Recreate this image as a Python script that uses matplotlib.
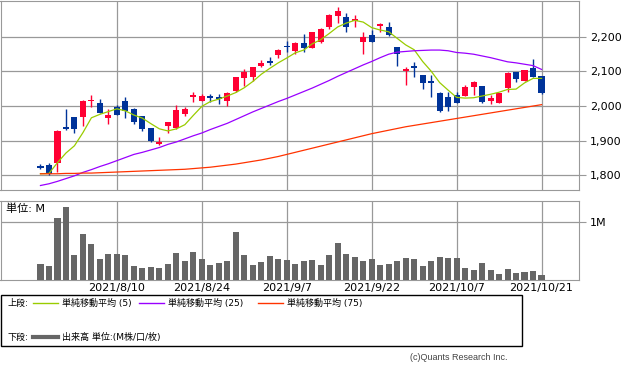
import numpy as np
import pandas as pd
import matplotlib
matplotlib.use('Agg')
import matplotlib.pyplot as plt
from matplotlib.patches import Rectangle
from matplotlib.lines import Line2D

plt.rcParams['font.family'] = ['DejaVu Sans', 'Noto Sans CJK JP']

# trading days 2021/7/27 - 2021/10/21 (Japanese holidays removed)
dates = pd.bdate_range('2021-07-27', '2021-10-21')
dates = dates.drop(pd.to_datetime(['2021-08-09', '2021-09-20', '2021-09-23']))

opens = [1826, 1830, 1836, 1937, 1968, 1969, 2015, 2008, 1966, 1997,
         2015, 1992, 1971, 1936, 1890, 1942, 1936, 1977, 2029, 2015,
         2028, 2027, 2015, 2044, 2082, 2083, 2117, 2129, 2147, 2173,
         2158, 2181, 2169, 2186, 2228, 2260, 2258, 2248, 2184, 2206,
         2231, 2228, 2170, 2101, 2115, 2090, 2072, 2037, 2027, 2032,
         2029, 2054, 2058, 2015, 2010, 2053, 2098, 2073, 2109, 2087]
highs = [1832, 1835, 1931, 1991, 1969, 2018, 2032, 2020, 1992, 2003,
         2026, 1994, 1971, 1937, 1911, 1955, 2003, 1998, 2041, 2035,
         2035, 2035, 2042, 2084, 2106, 2114, 2133, 2143, 2165, 2188,
         2185, 2209, 2214, 2227, 2265, 2287, 2270, 2263, 2213, 2220,
         2241, 2242, 2171, 2114, 2128, 2090, 2090, 2042, 2042, 2042,
         2061, 2072, 2058, 2032, 2039, 2098, 2099, 2105, 2136, 2088]
lows = [1818, 1799, 1810, 1931, 1923, 1942, 1998, 1979, 1947, 1974,
        1964, 1948, 1929, 1896, 1887, 1923, 1933, 1971, 2013, 2014,
        2013, 2006, 2000, 2042, 2058, 2072, 2114, 2119, 2138, 2155,
        2152, 2157, 2169, 2182, 2222, 2240, 2215, 2229, 2151, 2186,
        2215, 2204, 2117, 2061, 2085, 2050, 2027, 1984, 1987, 2008,
        2029, 2032, 2010, 2006, 2010, 2042, 2071, 2073, 2085, 2034]
closes = [1823, 1804, 1928, 1935, 1934, 2015, 2017, 1979, 1974, 1974,
          1986, 1955, 1934, 1898, 1897, 1954, 1989, 1992, 2031, 2029,
          2026, 2020, 2039, 2083, 2099, 2112, 2125, 2127, 2162, 2171,
          2183, 2169, 2213, 2223, 2264, 2274, 2228, 2250, 2199, 2186,
          2236, 2205, 2152, 2107, 2113, 2068, 2066, 1986, 1998, 2008,
          2056, 2070, 2013, 2022, 2037, 2097, 2077, 2104, 2085, 2037]

# volume in millions
volume = [0.27, 0.24, 1.07, 1.26, 0.43, 0.79, 0.62, 0.36, 0.45, 0.45,
          0.43, 0.24, 0.21, 0.22, 0.21, 0.27, 0.46, 0.33, 0.48, 0.36,
          0.26, 0.29, 0.33, 0.82, 0.43, 0.26, 0.31, 0.41, 0.36, 0.34,
          0.27, 0.33, 0.34, 0.26, 0.43, 0.64, 0.45, 0.39, 0.33, 0.36,
          0.26, 0.27, 0.33, 0.38, 0.36, 0.24, 0.33, 0.39, 0.38, 0.38,
          0.21, 0.17, 0.29, 0.17, 0.10, 0.19, 0.12, 0.14, 0.15, 0.09]

# moving averages
ma5 = [1804, 1805, 1836, 1864, 1885, 1923, 1966, 1976, 1984, 1992,
       1986, 1974, 1965, 1949, 1934, 1928, 1934, 1946, 1973, 1999,
       2013, 2020, 2029, 2039, 2053, 2071, 2092, 2109, 2125, 2139,
       2154, 2162, 2180, 2192, 2210, 2229, 2240, 2248, 2243, 2227,
       2220, 2215, 2196, 2177, 2163, 2129, 2101, 2068, 2046, 2025,
       2023, 2024, 2029, 2034, 2040, 2048, 2049, 2067, 2080, 2080]
ma25 = [1770, 1775, 1782, 1790, 1798, 1808, 1816, 1825, 1833, 1842,
        1851, 1860, 1866, 1873, 1880, 1889, 1896, 1905, 1914, 1922,
        1932, 1941, 1950, 1961, 1972, 1983, 1993, 2003, 2013, 2022,
        2032, 2042, 2052, 2063, 2074, 2086, 2097, 2108, 2119, 2129,
        2140, 2150, 2156, 2158, 2160, 2161, 2162, 2162, 2160, 2155,
        2153, 2150, 2145, 2140, 2134, 2128, 2125, 2121, 2117, 2106]
ma75 = [1804, 1804, 1804, 1805, 1805, 1806, 1806, 1807, 1808, 1809,
        1810, 1811, 1812, 1813, 1814, 1815, 1816, 1817, 1819, 1821,
        1823, 1826, 1829, 1832, 1836, 1840, 1844, 1849, 1854, 1860,
        1866, 1872, 1878, 1884, 1890, 1896, 1902, 1908, 1914, 1920,
        1925, 1930, 1935, 1940, 1944, 1948, 1952, 1956, 1960, 1964,
        1968, 1972, 1976, 1980, 1984, 1988, 1992, 1996, 2000, 2004]

tick_labels = ['2021/8/10', '2021/8/24', '2021/9/7', '2021/9/22', '2021/10/7', '2021/10/21']
price_ticks = [1800, 1900, 2000, 2100, 2200]

RED = '#ff0033'
BLUE = '#003399'
GRID = '#999999'
W, H = 633, 375

o = np.array(opens); c = np.array(closes)
x = np.arange(len(dates))
date_str = [f'{d.year}/{d.month}/{d.day}' for d in dates]
tick_pos = [date_str.index(t) for t in tick_labels]
xlim = (-40 / 8.5, (579 - 40) / 8.5)

fig = plt.figure(figsize=(W / 100, H / 100), dpi=100)

# upper panel: candles + moving averages
ax = fig.add_axes([0.5 / W, 1 - 190 / H, 578.5 / W, 189 / H])
colors = np.where(c >= o, RED, BLUE)
ax.vlines(x, lows, highs, colors=colors, lw=1.0, zorder=2)
small = np.abs(c - o) < 5
body_h = np.where(small, 5, np.abs(c - o))
body_b = np.where(small, (o + c) / 2 - 2.5, np.minimum(o, c))
ax.bar(x, body_h, bottom=body_b, width=0.72, color=colors, lw=0, zorder=3)
ax.plot(x, ma5, color='#99cc00', lw=0.9, zorder=4)
ax.plot(x, ma25, color='#9900ff', lw=0.9, zorder=4)
ax.plot(x, ma75, color='#ff3300', lw=0.9, zorder=4)
ax.set_xlim(*xlim)
ax.set_ylim(1757, 2304)
ax.set_xticks(tick_pos)
ax.set_yticks(price_ticks)
ax.set_yticklabels([f'{v:,}' for v in price_ticks])
ax.yaxis.tick_right()
ax.tick_params(axis='x', length=0, labelbottom=False)
ax.tick_params(axis='y', length=5, color=GRID, labelsize=8, pad=3)
ax.grid(True, color=GRID, lw=0.9, zorder=0)
ax.set_axisbelow(True)
for s in ax.spines.values():
    s.set_color(GRID)

# lower panel: volume
vax = fig.add_axes([0.5 / W, 1 - 280 / H, 578.5 / W, 79 / H])
vax.bar(x, volume, width=0.72, color='#666666', lw=0, zorder=3)
vax.set_xlim(*xlim)
vax.set_ylim(0, 1.355)
vax.set_yticks([1])
vax.set_yticklabels(['1M'])
vax.yaxis.tick_right()
vax.set_xticks(tick_pos)
vax.set_xticklabels(tick_labels)
vax.tick_params(axis='x', length=0, labelsize=8, pad=2)
vax.tick_params(axis='y', length=5, color=GRID, labelsize=8, pad=3)
vax.grid(True, color=GRID, lw=0.9, zorder=0)
vax.set_axisbelow(True)
for s in vax.spines.values():
    s.set_color(GRID)
vax.text(5 / 578.5, 0.97, '単位: M', transform=vax.transAxes, va='top', ha='left', fontsize=8)

# legend box
fig.add_artist(Rectangle((0.5 / W, 1 - 346 / H), 521 / W, 51 / H, transform=fig.transFigure,
                         fill=False, ec='black', lw=1))
y1 = 1 - 303 / H
y2 = 1 - 337 / H
fig.text(7 / W, y1, '上段:', fontsize=6.5, va='center')
fig.text(7 / W, y2, '下段:', fontsize=6.5, va='center')
items = [(33, '#99cc00', '単純移動平均 (5)'), (139, '#9900ff', '単純移動平均 (25)'),
         (258, '#ff3300', '単純移動平均 (75)')]
for px, col, lab in items:
    fig.add_artist(Line2D([px / W, (px + 25) / W], [y1, y1], color=col, lw=1, transform=fig.transFigure))
    fig.text((px + 29) / W, y1, lab, fontsize=6.5, va='center')
fig.add_artist(Line2D([33 / W, 58 / W], [y2, y2], color='#666666', lw=3, transform=fig.transFigure))
fig.text(62 / W, y2, '出来高 単位:(M株/口/枚)', fontsize=6.5, va='center')

fig.text(507 / W, 1 - 358 / H, '(c)Quants Research Inc.', ha='right', va='center',
         fontsize=6.5, color='#444444', family=['Liberation Sans', 'DejaVu Sans'])

fig.savefig('out.png', dpi=100)
